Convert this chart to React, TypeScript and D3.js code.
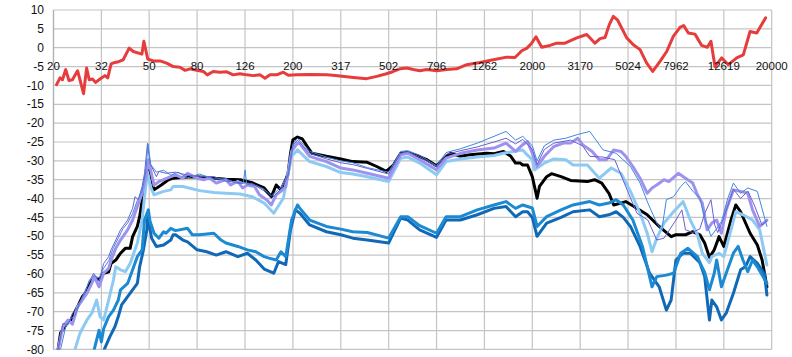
import React from 'react';
import * as d3 from 'd3';

type P = [number, number];

const X_TICK_FREQS = [20, 31.7, 50.2, 79.6, 126.2, 200, 317, 502.4, 796.2, 1262, 2000, 3170, 5024, 7962, 12619, 20000];
const X_TICK_LABELS = ['20', '32', '50', '80', '126', '200', '317', '502', '796', '1262', '2000', '3170', '5024', '7962', '12619', '20000'];
const Y_TICKS = [10, 5, 0, -5, -10, -15, -20, -25, -30, -35, -40, -45, -50, -55, -60, -65, -70, -75, -80];

const RED: P[] = [[20.6,-9.8],[21.3,-8.0],[21.8,-8.5],[22.5,-5.8],[23.2,-8.7],[24.0,-8.5],[25.2,-6.1],[25.8,-8.5],[26.7,-12.2],[27.5,-5.4],[28.2,-8.5],[29.1,-8.3],[30.0,-9.2],[31.3,-8.3],[32.8,-7.4],[33.7,-8.0],[34.8,-4.3],[36.1,-3.9],[37.4,-3.7],[39.1,-3.2],[41.4,-0.1],[43.1,-1.0],[46.8,-1.7],[47.7,1.7],[49.5,-3.0],[52.2,-3.5],[55.7,-3.5],[59.4,-4.1],[63.3,-5.0],[67.5,-5.2],[70.9,-6.0],[74.3,-5.6],[79.2,-6.0],[84.5,-6.3],[87.8,-7.2],[92.9,-6.3],[99.1,-6.5],[105.8,-6.4],[112.7,-7.2],[120.2,-6.9],[128.3,-7.2],[136.7,-7.4],[145.9,-7.2],[152.9,-8.1],[160.5,-7.2],[171.2,-7.2],[182.4,-6.5],[191.3,-7.3],[207,-7.2],[235,-7.1],[277,-7.2],[301,-7.4],[358,-7.9],[407,-8.2],[448,-7.6],[492,-6.9],[525,-6.3],[560,-5.6],[598,-5.4],[637,-5.8],[678,-6.1],[724,-5.8],[798,-6.1],[878,-5.8],[966,-5.6],[1065,-4.5],[1209,-3.9],[1375,-3.2],[1562,-2.5],[1694,-2.6],[1807,-0.8],[1900,-0.1],[1988,1.2],[2072,2.9],[2189,0.1],[2370,0.6],[2530,1.2],[2740,1.2],[3066,2.6],[3377,3.5],[3655,1.2],[3836,2.4],[4025,2.7],[4195,6.1],[4360,8.3],[4535,7.4],[4960,2.6],[5285,0.8],[5637,-0.5],[6010,-4.1],[6367,-6.3],[6831,-3.6],[7286,-1.0],[7762,3.0],[8281,5.4],[8580,5.9],[8970,3.9],[9563,3.6],[10200,0.6],[10770,0.1],[11150,1.7],[11590,-5.0],[12360,-2.7],[13180,-4.5],[14290,-2.7],[15220,-1.9],[16240,4.3],[17320,3.9],[18850,7.9]];

const BLACK: P[] = [[20.9,-80],[21.4,-75.7],[23.0,-72.6],[23.5,-72.6],[24.6,-70.0],[25.2,-68.7],[26.4,-66.0],[27.6,-64.7],[28.3,-62.5],[29.6,-61.1],[31.0,-61.5],[32.4,-59.8],[34.0,-59.4],[34.8,-57.2],[36.4,-56.3],[38.1,-54.5],[39.9,-53.2],[41.8,-53.2],[42.8,-50.1],[44.8,-47.4],[45.8,-44.8],[49.1,-32.4],[50.2,-31.5],[52.6,-37.7],[56.4,-36.4],[60.4,-35.0],[63.2,-34.6],[72.6,-34.3],[81.5,-34.3],[93.5,-34.6],[105,-34.9],[120.5,-35.0],[135.2,-35.8],[151.7,-37.2],[162.6,-39.5],[170.3,-36.4],[178.3,-37.7],[186.7,-35.0],[191.0,-33.3],[195.5,-28.0],[200,-24.4],[209,-23.7],[219,-24.2],[240,-28.0],[276,-28.8],[317,-29.5],[356,-30.2],[409,-30.4],[448,-31.5],[491,-32.8],[526,-31.1],[564,-28.0],[604,-27.8],[662,-28.7],[726,-29.7],[796,-31.3],[873,-28.8],[914,-28.0],[1002,-28.8],[1099,-28.4],[1291,-28.0],[1384,-28.1],[1517,-27.5],[1627,-28.8],[1703,-30.6],[1782,-30.6],[1824,-31.1],[1910,-31.1],[2000,-34.2],[2094,-39.9],[2143,-36.8],[2296,-34.2],[2405,-33.4],[2637,-34.2],[2891,-35.2],[3396,-35.5],[3640,-35.0],[3900,-35.9],[4179,-38.6],[4376,-41.7],[4688,-41.2],[4910,-40.8],[5385,-42.3],[6040,-44.3],[6777,-47.4],[7604,-50.1],[7962,-49.6],[8730,-49.6],[9355,-48.8],[10024,-49.6],[10496,-51.8],[10991,-55.6],[11509,-53.6],[12051,-50.1],[12619,-52.7],[13520,-45.7],[14160,-41.7],[14830,-43.5],[16250,-49.2],[17419,-52.3],[18240,-56.3],[19100,-63.4]];

const LIGHT_BLUE: P[] = [[24.6,-80],[25.8,-75.7],[27.6,-72.2],[28.9,-70.4],[30.3,-66.9],[31.3,-71.3],[32.4,-72.2],[34.0,-66.9],[35.6,-61.6],[36.4,-58.1],[38.1,-58.9],[39.9,-59.4],[41.8,-57.2],[44.8,-51.8],[46.9,-45.7],[48.0,-39.5],[49.4,-33.3],[50.8,-36.8],[52.6,-39.0],[57.7,-38.1],[61.8,-37.7],[63.2,-36.8],[69.4,-36.8],[81.5,-37.9],[93.5,-38.4],[105,-38.6],[120.5,-38.8],[135.2,-39.5],[151.7,-41.2],[166.4,-43.9],[182.4,-39.9],[197.7,-28.8],[209,-27.1],[235,-30.2],[276,-31.5],[317,-33.1],[356,-33.5],[409,-34.2],[502,-35.5],[564,-29.3],[604,-29.0],[677,-30.6],[796,-33.7],[873,-30.2],[1002,-29.5],[1178,-29.0],[1384,-28.6],[1517,-28.0],[1664,-27.5],[1824,-27.1],[1910,-28.5],[2000,-29.7],[2047,-32.4],[2245,-30.6],[2461,-29.5],[2761,-29.7],[2958,-31.1],[3396,-31.1],[3811,-34.6],[4277,-31.9],[4688,-33.3],[5141,-38.1],[5639,-43.9],[6040,-49.2],[6325,-54.1],[6623,-50.5],[7097,-46.5],[7783,-43.5],[8533,-40.8],[9142,-45.7],[9795,-49.6],[10257,-54.5],[10991,-57.0],[11247,-55.4],[12051,-54.5],[12619,-55.4],[13520,-48.3],[14160,-43.5],[15172,-44.3],[16635,-45.7],[17822,-48.3],[19100,-57.6]];

const PURPLE: P[] = [[20.9,-80],[21.9,-74.0],[23.0,-72.2],[24.0,-73.3],[25.2,-68.7],[26.4,-66.9],[27.6,-65.1],[28.9,-62.5],[29.6,-60.7],[31.0,-63.4],[32.4,-59.8],[34.0,-58.5],[34.8,-56.3],[36.4,-53.2],[38.1,-51.0],[40.8,-48.3],[42.8,-45.7],[44.8,-42.1],[46.9,-38.6],[48.6,-34.6],[49.8,-29.7],[52.6,-36.5],[55.1,-35.5],[61.8,-34.2],[64.7,-33.7],[69.4,-34.6],[72.6,-33.3],[79.6,-34.6],[85.3,-35.0],[89.3,-34.5],[95.7,-35.9],[105,-35.0],[109.9,-36.4],[117.8,-35.4],[123.3,-37.2],[129.1,-36.4],[138.4,-36.8],[144.9,-39.0],[155.3,-40.3],[162.6,-41.7],[170.3,-39.0],[178.3,-38.1],[186.7,-36.8],[197.5,-27.5],[209,-25.3],[214,-25.5],[235,-28.8],[276,-30.2],[317,-31.9],[356,-32.4],[409,-33.3],[502,-34.6],[564,-28.4],[604,-28.0],[677,-29.7],[796,-32.4],[873,-29.3],[1002,-28.0],[1178,-27.1],[1384,-26.6],[1553,-25.3],[1703,-27.5],[1824,-25.7],[1910,-24.9],[2000,-28.0],[2094,-31.5],[2245,-28.8],[2461,-26.2],[2698,-25.3],[2891,-25.3],[3097,-24.0],[3243,-25.7],[3557,-27.5],[3811,-29.7],[4084,-29.7],[4376,-27.1],[4688,-27.5],[4910,-28.8],[5261,-31.5],[5639,-34.6],[6040,-38.6],[6325,-37.2],[6623,-36.4],[7097,-35.0],[7432,-35.5],[8147,-33.3],[8730,-34.6],[9355,-35.9],[9795,-39.0],[10257,-41.2],[10740,-48.3],[11247,-46.5],[11780,-45.7],[12330,-49.2],[12910,-43.0],[13837,-37.7],[14830,-38.1],[15887,-38.6],[16635,-43.0],[17822,-47.4],[19100,-45.7]];

const THIN_PURPLE: P[] = [[20.9,-80],[21.9,-73.1],[23.0,-73.5],[24.0,-70.4],[25.2,-69],[26.4,-66],[28.0,-62.5],[29.4,-59.8],[31.0,-62],[32.4,-57.2],[34.0,-55.4],[34.8,-53.6],[36.4,-51],[38.1,-48.3],[40.8,-45.7],[42.8,-42.6],[43.8,-39.5],[45.2,-40.3],[46.9,-36.8],[48.0,-33.3],[49.4,-25.3],[50.6,-30.6],[53.8,-34.2],[55.1,-32.8],[59.0,-33.3],[64.7,-33],[72.6,-33.8],[81.5,-34.2],[93.5,-34.2],[105,-35.4],[120.5,-35.8],[135.2,-36],[151.7,-38],[162.6,-40],[178.3,-37.5],[191,-34],[200,-26],[209,-24.5],[235,-28],[276,-29.5],[317,-30.5],[356,-31],[409,-32],[502,-33.5],[564,-28],[604,-27.6],[677,-29],[796,-31.6],[873,-28.3],[1002,-27.3],[1178,-26.3],[1384,-25],[1553,-24],[1703,-25.5],[1824,-24.3],[2000,-27],[2094,-31],[2245,-27],[2461,-25.3],[2891,-24.5],[3243,-26],[3476,-28.8],[3950,-29],[4420,-29.7],[4910,-36.8],[5470,-43.9],[6080,-45.7],[6623,-51],[7097,-50.5],[7962,-45.7],[8430,-43],[8730,-48.3],[9355,-49],[10024,-48],[10496,-44],[11150,-40.3],[11560,-47],[11900,-49],[12619,-45],[13837,-37.5],[14830,-40],[15900,-38],[16990,-42],[18200,-47],[19100,-46]];

const THIN_BLUE: P[] = [[21.4,-80],[22.5,-74],[23.5,-72],[24.6,-71],[25.8,-67.5],[27.0,-65],[28.3,-61.5],[29.6,-60.5],[31.0,-61],[32.4,-58.5],[34.0,-56.5],[35.6,-53],[37.3,-50.5],[39.0,-48],[40.8,-46.5],[42.8,-44],[44.8,-40.5],[46.9,-38],[48.6,-33],[49.6,-25.5],[51.0,-31],[53.8,-33],[57.7,-32.5],[61.8,-33.8],[66.2,-33],[72.6,-34.5],[81.5,-33.5],[93.5,-34.8],[105,-34.8],[117.8,-36],[124,-36],[126.2,-32.4],[128.3,-36.2],[140,-36.5],[151.7,-37.5],[162.6,-39.3],[178.3,-37],[191,-33.5],[200,-25.5],[209,-24],[235,-27.5],[276,-29],[317,-30],[356,-30.5],[409,-31.8],[502,-33],[564,-27.5],[604,-27.3],[677,-28.5],[796,-31.3],[873,-27.8],[1002,-26.8],[1178,-25.3],[1384,-23.5],[1553,-22.2],[1703,-24.5],[1824,-23.5],[2000,-26],[2094,-30],[2245,-26],[2461,-24.5],[2761,-24],[3097,-23],[3476,-22.2],[3950,-27.1],[4479,-28],[5141,-31.5],[5639,-35.9],[6080,-41.2],[6623,-46.5],[6950,-48.3],[7262,-40.3],[7783,-39.5],[8337,-36.8],[8730,-35.5],[9355,-38],[10024,-40],[10496,-45],[11150,-50],[11780,-48],[12350,-46],[13100,-40],[13837,-35.9],[14830,-38.6],[15900,-37.2],[17419,-38.1],[19100,-47.4]];

const BLUE_1: P[] = [[29.6,-80],[31.0,-74.9],[31.7,-78],[32.4,-74.5],[34.0,-71.3],[35.6,-69.6],[37.3,-66.9],[38.1,-64.2],[40.8,-62.5],[42.8,-58.9],[44.8,-55.4],[46.9,-53.6],[48.0,-45.7],[49.8,-43.0],[50.6,-46],[52.6,-49.2],[55.1,-50.5],[57.7,-48.8],[59.0,-49.2],[61.8,-47.9],[64.7,-48.5],[72.6,-47.9],[76.0,-49.6],[81.5,-49.6],[93.5,-49.2],[100.2,-51.0],[105,-51.8],[117.8,-52.7],[129.1,-53.6],[140,-54.1],[151.7,-55.4],[158.9,-55.8],[170.3,-56.3],[178.3,-54.1],[186.7,-55.4],[197.5,-45.7],[209,-41.7],[214,-42.6],[235,-45.7],[276,-47.4],[317,-48.1],[356,-48.8],[409,-49.0],[502,-50.5],[564,-44.8],[604,-44.8],[677,-47.2],[796,-49.2],[873,-44.8],[1002,-44.8],[1178,-43.0],[1384,-41.7],[1553,-40.8],[1703,-42.6],[1824,-41.7],[1910,-42.1],[2000,-42.5],[2094,-47.4],[2296,-44.8],[2637,-43.0],[2958,-41.7],[3476,-40.8],[3811,-41.7],[4179,-41.2],[4479,-40.3],[4798,-41.7],[5261,-45.7],[5769,-52.7],[6325,-63.4],[6623,-60.7],[7262,-60.3],[7783,-59.8],[8337,-54.5],[8933,-53.2],[9795,-55.4],[10024,-57.0],[10496,-59.6],[10991,-64.2],[11509,-59.8],[11780,-56.3],[12330,-63.4],[12910,-59.8],[13837,-54.5],[14489,-52.7],[15172,-56.3],[15887,-59.4],[16635,-56.3],[17419,-58.1],[19100,-62.5]];

const BLUE_2: P[] = [[32.6,-80],[34.4,-76.6],[36.1,-74.0],[37.3,-71.3],[38.5,-68.2],[40.8,-66.0],[42.8,-64.2],[44.8,-62.5],[45.8,-58.1],[47.5,-53.6],[49.1,-48.3],[49.5,-44.8],[51.4,-50.5],[53.8,-52.7],[57.7,-52.3],[61.8,-51.0],[63.2,-49.6],[64.7,-49.6],[69.4,-51.0],[72.6,-51.5],[79.6,-53.6],[87.3,-54.1],[95.7,-55.0],[105,-54.1],[117.8,-55.4],[129.1,-54.5],[140,-56.3],[151.7,-58.7],[166.4,-59.8],[174.2,-56.7],[186.7,-57.5],[195.5,-48.3],[204.7,-43.0],[214,-43.9],[235,-47.0],[276,-48.8],[317,-49.6],[356,-50.5],[409,-51.0],[502,-51.8],[564,-45.2],[604,-45.7],[677,-48.3],[796,-50.3],[873,-45.7],[1002,-45.7],[1178,-44.3],[1384,-42.6],[1553,-42.1],[1703,-44.8],[1824,-43.5],[1910,-43.5],[2000,-45.0],[2094,-50.0],[2296,-46.5],[2637,-45.0],[2958,-43.5],[3476,-43.0],[3811,-44.8],[4179,-44.3],[4479,-43.5],[4798,-45.0],[5141,-47.4],[5639,-52.7],[6181,-59.8],[6777,-63.4],[7262,-69.6],[7604,-66.9],[7962,-56.3],[8533,-54.5],[9142,-54.5],[10024,-57.0],[10496,-60.7],[10991,-72.2],[11247,-66.9],[11780,-68.7],[12330,-72.2],[12910,-70.4],[13837,-65.1],[14830,-58.9],[15530,-58.1],[16250,-55.4],[17419,-57.2],[18670,-60.0],[19100,-65.6]];

const SERIES: { data: P[]; color: string; width: number }[] = [
  { data: BLACK, color: '#000000', width: 3 },
  { data: LIGHT_BLUE, color: '#8dcaf3', width: 3 },
  { data: BLUE_2, color: '#1069b6', width: 3 },
  { data: BLUE_1, color: '#1b8ad3', width: 3 },
  { data: PURPLE, color: '#9d93ef', width: 3 },
  { data: THIN_PURPLE, color: '#6a5fd2', width: 1 },
  { data: THIN_BLUE, color: '#3e88dd', width: 1 },
  { data: RED, color: '#e63c3c', width: 3 },
];

const W = 792;
const H = 357;
const LEFT = 53.5;
const RIGHT = 771.7;
const TOP = 10;
const BOTTOM = 349.4;

export default function App() {
  const x = d3.scaleLog().domain([20, 20000]).range([LEFT, RIGHT]);
  const y = d3.scaleLinear().domain([-80, 10]).range([BOTTOM, TOP]);
  const line = d3
    .line<P>()
    .x((d) => x(d[0]))
    .y((d) => y(d[1]));
  const font = '"Liberation Sans", Arial, sans-serif';
  return (
    <svg
      width={W}
      height={H}
      style={{ position: 'absolute', left: 0, top: 0, background: '#fff' }}
      fontFamily={font}
    >
      <rect x={0} y={0} width={W} height={H} fill="#fff" />
      <defs>
        <clipPath id="plot">
          <rect x={LEFT} y={TOP - 4} width={RIGHT - LEFT + 2} height={BOTTOM - TOP + 4} />
        </clipPath>
      </defs>
      {Y_TICKS.map((t) => (
        <line key={'gy' + t} x1={LEFT} x2={RIGHT} y1={y(t)} y2={y(t)} stroke="#c4c4c4" strokeWidth={1.2} />
      ))}
      {X_TICK_FREQS.map((f) => (
        <line key={'gx' + f} x1={x(f)} x2={x(f)} y1={TOP} y2={BOTTOM} stroke="#c4c4c4" strokeWidth={1.2} />
      ))}
      <line x1={LEFT} x2={LEFT} y1={TOP} y2={BOTTOM} stroke="#b0b0b0" strokeWidth={1.2} />
      {Y_TICKS.map((t) => (
        <text key={'ty' + t} x={44} y={y(t)} dy="0.35em" textAnchor="end" fontSize={12} fill="#111">
          {t}
        </text>
      ))}
      <g clipPath="url(#plot)">
        {SERIES.map((s, i) => (
          <path
            key={i}
            d={line(s.data) || ''}
            fill="none"
            stroke={s.color}
            strokeWidth={s.width}
            strokeLinejoin="round"
            strokeLinecap="round"
          />
        ))}
      </g>
      {X_TICK_FREQS.map((f, i) => (
        <text key={'tx' + f} x={x(f)} y={70} textAnchor="middle" fontSize={11.5} fill="#111">
          {X_TICK_LABELS[i]}
        </text>
      ))}
    </svg>
  );
}
